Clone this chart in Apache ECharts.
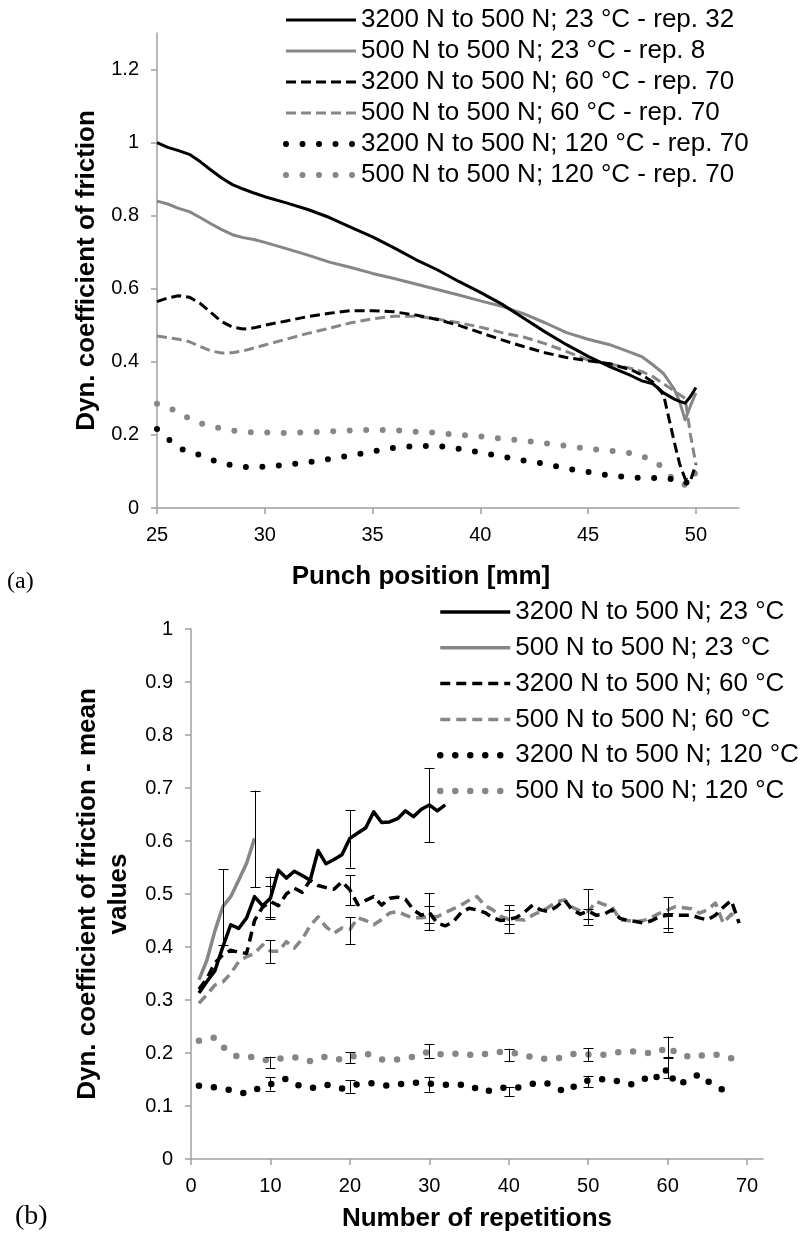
<!DOCTYPE html>
<html><head><meta charset="utf-8">
<script src="https://cdn.jsdelivr.net/npm/echarts@6/dist/echarts.min.js"></script>
<style>html,body{margin:0;padding:0;background:#fff}#c{width:807px;height:1234px}</style>
</head><body><div id="c"></div>
<script>
// ---------- (a) Punch position chart ----------
const posA = [25,25.5,26,26.5,27,27.5,28,28.5,29,29.5,30,31,32,33,34,35,36,37,38,39,40,41,42,43,44,45,46,47,47.5,48,48.5,49,49.25,49.5,49.75,50];
const a_3200_23 = [1.0,0.987,0.978,0.968,0.948,0.925,0.903,0.885,0.873,0.862,0.852,0.835,0.817,0.795,0.768,0.742,0.712,0.68,0.652,0.62,0.59,0.558,0.52,0.482,0.447,0.415,0.387,0.362,0.348,0.34,0.315,0.298,0.292,0.287,0.305,0.33];
const a_500_23  = [0.84,0.832,0.82,0.811,0.795,0.778,0.762,0.748,0.74,0.735,0.727,0.71,0.692,0.673,0.658,0.642,0.628,0.613,0.598,0.583,0.567,0.552,0.532,0.507,0.48,0.462,0.447,0.425,0.414,0.392,0.368,0.325,0.29,0.241,0.28,0.315];
const a_3200_60 = [0.565,0.575,0.581,0.577,0.56,0.535,0.51,0.495,0.49,0.493,0.5,0.512,0.524,0.533,0.54,0.54,0.537,0.528,0.516,0.5,0.48,0.46,0.442,0.425,0.412,0.403,0.395,0.378,0.364,0.345,0.31,0.18,0.12,0.08,0.075,0.12];
const a_500_60  = [0.471,0.466,0.462,0.455,0.442,0.43,0.424,0.425,0.43,0.438,0.446,0.462,0.478,0.492,0.507,0.518,0.525,0.525,0.517,0.507,0.495,0.48,0.468,0.45,0.428,0.405,0.394,0.382,0.373,0.36,0.34,0.32,0.31,0.30,0.2,0.12];
const a_3200_120= [0.216,0.19,0.165,0.152,0.145,0.133,0.122,0.117,0.112,0.112,0.113,0.118,0.125,0.134,0.144,0.155,0.165,0.17,0.17,0.162,0.152,0.141,0.13,0.121,0.108,0.099,0.089,0.084,0.082,0.082,0.081,0.079,0.077,0.07,0.068,0.07];
const a_500_120 = [0.285,0.276,0.262,0.245,0.232,0.225,0.217,0.212,0.209,0.207,0.207,0.205,0.207,0.21,0.212,0.214,0.213,0.209,0.206,0.2,0.196,0.19,0.185,0.177,0.17,0.162,0.157,0.15,0.142,0.13,0.11,0.074,0.068,0.063,0.07,0.1];
const namesA = ['3200 N to 500 N; 23 °C - rep. 32','500 N to 500 N; 23 °C - rep. 8','3200 N to 500 N; 60 °C - rep. 70','500 N to 500 N; 60 °C - rep. 70','3200 N to 500 N; 120 °C - rep. 70','500 N to 500 N; 120 °C - rep. 70'];
const ticksAx = [25,30,35,40,45,50];
const ticksAy = [0,0.2,0.4,0.6,0.8,1,1.2];

// ---------- (b) Repetitions chart ----------
const b_3200_23 = [0.313,0.335,0.355,0.40,0.442,0.435,0.455,0.495,0.478,0.492,0.545,0.53,0.543,0.535,0.526,0.582,0.557,0.565,0.574,0.605,0.615,0.625,0.655,0.635,0.636,0.642,0.657,0.646,0.66,0.668,0.657,0.668];
const b_500_23  = [0.338,0.375,0.43,0.476,0.495,0.526,0.558,0.605];
const b_3200_60 = [0.32,0.34,0.37,0.385,0.394,0.39,0.388,0.45,0.475,0.486,0.478,0.50,0.511,0.503,0.526,0.516,0.512,0.509,0.523,0.508,0.48,0.488,0.495,0.479,0.492,0.494,0.49,0.47,0.46,0.465,0.445,0.44,0.447,0.465,0.473,0.47,0.465,0.455,0.45,0.452,0.456,0.466,0.479,0.47,0.467,0.476,0.489,0.47,0.462,0.468,0.46,0.462,0.47,0.454,0.45,0.448,0.445,0.45,0.457,0.46,0.46,0.46,0.46,0.455,0.451,0.46,0.475,0.488,0.445];
const b_500_60  = [0.294,0.31,0.328,0.334,0.35,0.372,0.382,0.388,0.404,0.392,0.392,0.41,0.398,0.415,0.44,0.457,0.438,0.426,0.436,0.433,0.455,0.45,0.442,0.452,0.464,0.467,0.46,0.455,0.455,0.458,0.457,0.465,0.472,0.479,0.488,0.495,0.478,0.47,0.458,0.452,0.452,0.451,0.46,0.467,0.475,0.485,0.489,0.475,0.468,0.467,0.486,0.48,0.476,0.451,0.45,0.448,0.45,0.456,0.464,0.47,0.476,0.474,0.472,0.464,0.47,0.483,0.445,0.462,0.448];
const b_3200_120= [0.138,0.137,0.135,0.132,0.13,0.127,0.123,0.13,0.136,0.141,0.145,0.152,0.143,0.136,0.134,0.135,0.14,0.138,0.133,0.137,0.141,0.142,0.143,0.14,0.138,0.14,0.143,0.144,0.144,0.142,0.141,0.14,0.14,0.14,0.14,0.132,0.126,0.132,0.135,0.133,0.134,0.139,0.142,0.145,0.142,0.136,0.126,0.135,0.144,0.148,0.151,0.15,0.15,0.145,0.14,0.142,0.15,0.162,0.15,0.172,0.14,0.145,0.152,0.16,0.147,0.138,0.13];
const b_500_120 = [0.223,0.226,0.229,0.212,0.198,0.193,0.193,0.192,0.188,0.185,0.189,0.191,0.192,0.189,0.185,0.19,0.193,0.19,0.187,0.192,0.196,0.199,0.195,0.188,0.187,0.188,0.19,0.193,0.198,0.203,0.199,0.196,0.198,0.2,0.197,0.195,0.198,0.2,0.202,0.201,0.199,0.196,0.192,0.189,0.189,0.189,0.194,0.198,0.198,0.197,0.196,0.197,0.199,0.202,0.204,0.202,0.2,0.2,0.202,0.214,0.2,0.196,0.191,0.194,0.198,0.197,0.195,0.19,0.185];
const namesB = ['3200 N to 500 N; 23 °C','500 N to 500 N; 23 °C','3200 N to 500 N; 60 °C','500 N to 500 N; 60 °C','3200 N to 500 N; 120 °C','500 N to 500 N; 120 °C'];
// error bars: [repetition, low, high]
const err_3200_23 = [[10,0.452,0.533],[20,0.55,0.658],[30,0.598,0.738]];
const err_500_23  = [[4,0.404,0.547],[8,0.513,0.695]];
const err_3200_60 = [[10,0.457,0.515],[20,0.479,0.535],[30,0.432,0.502],[40,0.427,0.479],[50,0.442,0.509],[60,0.429,0.494]];
const err_500_60  = [[10,0.37,0.413],[20,0.406,0.456],[30,0.445,0.477],[40,0.443,0.47],[50,0.452,0.472],[60,0.435,0.465]];
const err_3200_120= [[10,0.129,0.155],[20,0.125,0.149],[30,0.127,0.155],[40,0.118,0.136],[50,0.135,0.157],[60,0.152,0.19]];
const err_500_120 = [[10,0.172,0.193],[20,0.181,0.202],[30,0.191,0.217],[40,0.184,0.208],[50,0.184,0.209],[60,0.192,0.231]];
const ticksBx = [0,10,20,30,40,50,60,70];

// ---------- build ----------
const FONT = 'Liberation Sans, Arial, sans-serif';
const BLACK = '#000000', GRAY = '#868686', AXIS = '#a0a0a0';
const seriesColors = [BLACK, GRAY, BLACK, GRAY, BLACK, GRAY];
const styleA = [
  {type:'solid', width:3, cap:'butt'},
  {type:'solid', width:3, cap:'butt'},
  {type:[10,5], width:3, cap:'butt'},
  {type:[10,5], width:3, cap:'butt'},
  {type:[0,16.5], width:6, cap:'round'},
  {type:[0,16.5], width:6, cap:'round'}
];
const styleB = [
  {type:'solid', width:3.5, cap:'butt'},
  {type:'solid', width:3.5, cap:'butt'},
  {type:[10,6], width:3.5, cap:'butt'},
  {type:[10,6], width:3.5, cap:'butt'},
  {type:[0,15], width:6.5, cap:'round'},
  {type:[0,15], width:6.5, cap:'round'}
];
const dataA = [a_3200_23,a_500_23,a_3200_60,a_500_60,a_3200_120,a_500_120];
const dataB = [b_3200_23,b_500_23,b_3200_60,b_500_60,b_3200_120,b_500_120];
const errB = [err_3200_23,err_500_23,err_3200_60,err_500_60,err_3200_120,err_500_120];

const series = [];
dataA.forEach((arr,i)=>{
  series.push({
    name: namesA[i], type:'line', xAxisIndex:0, yAxisIndex:0,
    data: arr.map((v,j)=>[posA[j], v]),
    showSymbol:false, symbol:'none', animation:false, z: 6-i,
    lineStyle: Object.assign({color: seriesColors[i], join:'round'}, styleA[i]),
    itemStyle:{color: seriesColors[i]}
  });
});
dataB.forEach((arr,i)=>{
  series.push({
    name: namesB[i], type:'line', xAxisIndex:1, yAxisIndex:1,
    data: arr.map((v,j)=>[j+1, v]),
    showSymbol:false, symbol:'none', animation:false, z: 6-i,
    lineStyle: Object.assign({color: seriesColors[i], join:'round'}, styleB[i]),
    itemStyle:{color: seriesColors[i]}
  });
});
const errAll = [].concat(...errB);
series.push({
  type:'custom', xAxisIndex:1, yAxisIndex:1, animation:false, z:10, silent:true,
  data: errAll,
  renderItem(params, api){
    const x = api.value(0), lo = api.value(1), hi = api.value(2);
    const p1 = api.coord([x, lo]), p2 = api.coord([x, hi]);
    const cx = Math.round(p1[0]) + 0.5, w = 5;
    const st = {stroke:'#000', lineWidth:1};
    return {type:'group', children:[
      {type:'line', shape:{x1:cx, y1:p1[1], x2:cx, y2:p2[1]}, style:st},
      {type:'line', shape:{x1:cx-w, y1:Math.round(p1[1])+0.5, x2:cx+w, y2:Math.round(p1[1])+0.5}, style:st},
      {type:'line', shape:{x1:cx-w, y1:Math.round(p2[1])+0.5, x2:cx+w, y2:Math.round(p2[1])+0.5}, style:st}
    ]};
  }
});

function axisCommon(){
  return {
    axisLine:{show:true, onZero:false, lineStyle:{color:AXIS, width:1.5}},
    axisTick:{show:true, inside:false, length:6, lineStyle:{color:AXIS, width:1.5}},
    splitLine:{show:false},
    axisLabel:{color:'#000', fontFamily:FONT, fontSize:20},
    nameTextStyle:{color:'#000', fontFamily:FONT, fontSize:26, fontWeight:'bold'}
  };
}
const xA = Object.assign(axisCommon(), {type:'value', gridIndex:0, min:25, max:52,
  name:'Punch position [mm]', nameLocation:'middle', nameGap:56});
xA.axisTick.customValues = ticksAx; xA.axisLabel.customValues = ticksAx; xA.axisLabel.margin = 17;
xA.nameTextStyle.padding = [0, 54, 0, 0];
const yA = Object.assign(axisCommon(), {type:'value', gridIndex:0, min:0, max:1.3,
  name:'Dyn. coefficient of friction', nameLocation:'middle', nameGap:55, nameRotate:90});
yA.axisTick.customValues = ticksAy; yA.axisLabel.customValues = ticksAy; yA.axisLabel.margin = 18;
const xB = Object.assign(axisCommon(), {type:'value', gridIndex:1, min:0, max:72,
  name:'Number of repetitions', nameLocation:'middle', nameGap:47});
xB.axisTick.customValues = ticksBx; xB.axisLabel.customValues = ticksBx; xB.axisLabel.margin = 17;
const yB = Object.assign(axisCommon(), {type:'value', gridIndex:1, min:0, max:1, interval:0.1,
  name:'Dyn. coefficient of friction - mean\nvalues', nameLocation:'middle', nameGap:55, nameRotate:90});
yB.axisLabel.margin = 18;
yB.nameTextStyle.lineHeight = 31;

const legendCommon = {
  orient:'vertical', padding:0, itemWidth:70, itemHeight:14, selectedMode:false,
  textStyle:{fontFamily:FONT, fontSize:26, lineHeight:26, color:'#000'},
  lineStyle:{width:'inherit'},
  itemStyle:{opacity:0, borderWidth:0}
};

const option = {
  backgroundColor:'#ffffff',
  animation:false,
  grid:[
    {left:157, top:33, width:582, height:475},
    {left:191, top:629, width:572, height:530}
  ],
  xAxis:[xA, xB],
  yAxis:[yA, yB],
  legend:[
    Object.assign({}, legendCommon, {data:namesA, left:283, top:7, itemGap:5}),
    Object.assign({}, legendCommon, {data:namesB, left:437, top:599, itemGap:9.8})
  ],
  graphic:[
    {type:'text', left:7, top:570, style:{text:'(a)', font:'24px "Liberation Serif", "Times New Roman", serif', fill:'#000'}},
    {type:'text', left:15, top:1203, style:{text:'(b)', font:'28px "Liberation Serif", "Times New Roman", serif', fill:'#000'}}
  ],
  series
};
const chart = echarts.init(document.getElementById('c'), null, {renderer:'canvas'});
chart.setOption(option);
</script>
</body></html>
